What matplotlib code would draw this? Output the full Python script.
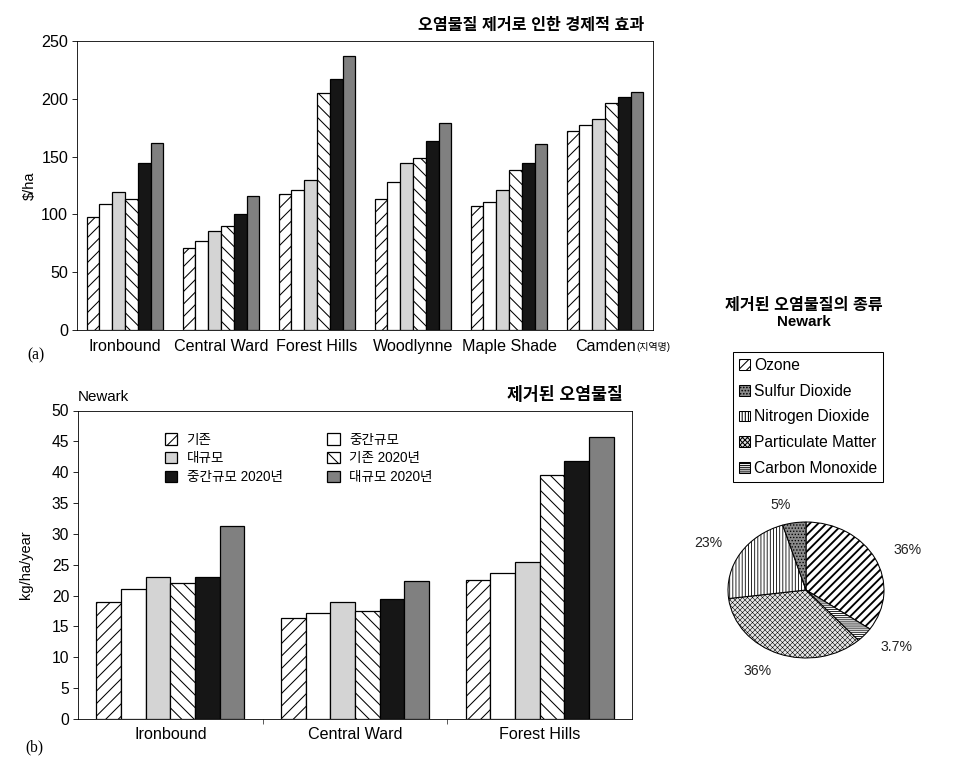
import numpy as np
import matplotlib.pyplot as plt
from matplotlib.patches import Patch

plt.rcParams['font.family'] = ['Liberation Sans', 'Noto Sans CJK KR']
plt.rcParams['hatch.linewidth'] = 1.0

# (a) economic effect of pollutant removal, $/ha
sites_a = ['Ironbound', 'Central Ward', 'Forest Hills', 'Woodlynne', 'Maple Shade', 'Camden']
existing_a = [98, 70.6, 118, 113.5, 107, 172]
medium_a = [109.4, 76.6, 121, 128, 110.6, 177.7]
large_a = [119, 85.3, 130, 144.3, 121.5, 182.3]
existing2020_a = [113.5, 90.2, 205, 149.2, 138, 196]
medium2020_a = [144.6, 100.5, 217, 163.3, 144.6, 201.6]
large2020_a = [162, 115.5, 237, 179.4, 161, 206.2]

# (b) pollutants removed in Newark, kg/ha/year
sites_b = ['Ironbound', 'Central Ward', 'Forest Hills']
existing_b = [18.9, 16.3, 22.6]
medium_b = [21.0, 17.2, 23.7]
large_b = [23.0, 18.9, 25.5]
existing2020_b = [22.0, 17.5, 39.5]
medium2020_b = [23.0, 19.5, 41.8]
large2020_b = [31.3, 22.4, 45.7]

series_names = ['기존', '중간규모', '대규모', '기존 2020년', '중간규모 2020년', '대규모 2020년']

# pie: kinds of pollutant removed (clockwise from top)
pollutants = ['Ozone', 'Carbon Monoxide', 'Particulate Matter', 'Nitrogen Dioxide', 'Sulfur Dioxide']
shares = [36, 3.7, 36, 23, 5]
legend_order = ['Ozone', 'Sulfur Dioxide', 'Nitrogen Dioxide', 'Particulate Matter', 'Carbon Monoxide']

bar_styles = [
    dict(facecolor='white', hatch='//'),
    dict(facecolor='white'),
    dict(facecolor='#d4d4d4'),
    dict(facecolor='white', hatch='\\\\'),
    dict(facecolor='#161616'),
    dict(facecolor='#808080'),
]

pie_styles = {
    'Ozone': dict(facecolor='white', hatch='///'),
    'Sulfur Dioxide': dict(facecolor='#8a8a8a', hatch='....'),
    'Nitrogen Dioxide': dict(facecolor='white', hatch='||||'),
    'Particulate Matter': dict(facecolor='#e6e6e6', hatch='xxxxx'),
    'Carbon Monoxide': dict(facecolor='white', hatch='------'),
}
pie_hatch_lw = {'Ozone': 1.8, 'Sulfur Dioxide': 0.8, 'Nitrogen Dioxide': 0.8,
                'Particulate Matter': 0.5, 'Carbon Monoxide': 0.8}


def grouped_bars(ax, series, n_groups, group_width=0.8):
    w = group_width / len(series)
    x = np.arange(n_groups)
    bars = []
    for i, vals in enumerate(series):
        b = ax.bar(x - group_width / 2 + w * (i + 0.5), vals, width=w,
                   edgecolor='black', linewidth=1.2, label=series_names[i],
                   **bar_styles[i])
        bars.append(b)
    return bars


W, H = 953, 780
fig = plt.figure(figsize=(W / 75, H / 75), dpi=75)

# ---- (a) ----
ax1 = fig.add_axes([77 / W, 1 - 330 / H, 576 / W, 289 / H])
grouped_bars(ax1, [existing_a, medium_a, large_a, existing2020_a, medium2020_a, large2020_a], len(sites_a))
ax1.set_xlim(-0.5, len(sites_a) - 0.5)
ax1.set_ylim(0, 250)
ax1.set_yticks(np.arange(0, 251, 50))
ax1.set_xticks(np.arange(len(sites_a)))
ax1.set_xticklabels(sites_a)
ax1.tick_params(axis='x', length=0, labelsize=15.5, pad=9)
ax1.tick_params(axis='y', direction='out', length=5, labelsize=15.5)
ax1.set_ylabel(r'\$/ha', fontsize=14)
ax1.yaxis.set_label_coords(-0.069, 0.5)
ax1.text(0.984, 1.055, '오염물질 제거로 인한 경제적 효과', transform=ax1.transAxes,
         ha='right', va='center', fontsize=15.5, fontweight='bold')
ax1.text(0.972, -0.06, '(지역명)', transform=ax1.transAxes, ha='left', va='center', fontsize=9.5)
fig.text(27 / W, 1 - 355 / H, '(a)', family='Liberation Serif', fontsize=15, va='center')

# ---- (b) ----
ax2 = fig.add_axes([78 / W, 1 - 719 / H, 554 / W, 308.5 / H])
bars_b = grouped_bars(ax2, [existing_b, medium_b, large_b, existing2020_b, medium2020_b, large2020_b], len(sites_b))
ax2.set_xlim(-0.5, len(sites_b) - 0.5)
ax2.set_ylim(0, 50)
ax2.set_yticks(np.arange(0, 51, 5))
ax2.set_xticks(np.arange(len(sites_b)))
ax2.set_xticklabels(sites_b)
ax2.set_xticks(np.arange(len(sites_b) - 1) + 0.5, minor=True)
ax2.tick_params(axis='x', which='major', length=0, labelsize=15.5, pad=8)
ax2.tick_params(axis='x', which='minor', direction='out', length=5)
ax2.tick_params(axis='y', direction='out', length=5, labelsize=15)
ax2.set_ylabel('kg/ha/year', fontsize=14)
ax2.yaxis.set_label_coords(-0.081, 0.5)
ax2.text(0.0, 1.045, 'Newark', transform=ax2.transAxes, ha='left', va='center', fontsize=14.5)
ax2.text(0.984, 1.052, '제거된 오염물질', transform=ax2.transAxes,
         ha='right', va='center', fontsize=16.5, fontweight='bold')
order = [0, 2, 4, 1, 3, 5]
ax2.legend([bars_b[i] for i in order], [series_names[i] for i in order],
           ncol=2, frameon=False, loc='upper left', bbox_to_anchor=(0.135, 0.968),
           fontsize=13, handlelength=0.9, handleheight=0.9, handletextpad=0.7,
           labelspacing=0.35, columnspacing=3.3)
fig.text(25 / W, 1 - 747 / H, '(b)', family='Liberation Serif', fontsize=15, va='center')

# ---- pie ----
fig.text(804 / W, 1 - 305 / H, '제거된 오염물질의 종류', ha='center', va='center',
         fontsize=15.5, fontweight='bold')
fig.text(804 / W, 1 - 322 / H, 'Newark', ha='center', va='center',
         fontsize=14.5, fontweight='bold')

ax3 = fig.add_axes([728 / W, 1 - 658 / H, 156 / W, 136 / H])
wedges, texts = ax3.pie(shares, labels=[f'{s:g}%' for s in shares], startangle=90,
                        counterclock=False, labeldistance=1.27,
                        wedgeprops=dict(edgecolor='black', linewidth=1),
                        textprops=dict(fontsize=13.5, color='#222222'))
for wdg, name in zip(wedges, pollutants):
    wdg.set_facecolor(pie_styles[name]['facecolor'])
    wdg.set_hatch(pie_styles[name]['hatch'])
    if hasattr(wdg, 'set_hatch_linewidth'):
        wdg.set_hatch_linewidth(pie_hatch_lw[name])
ax3.set_aspect('auto')
ax3.set_xlim(-1, 1)
ax3.set_ylim(-1, 1)

handles = [Patch(edgecolor='black', label=n, **pie_styles[n]) for n in legend_order]
leg = fig.legend(handles=handles, loc='upper left', bbox_to_anchor=(733 / W, 1 - 352 / H),
                 fontsize=15, frameon=True, fancybox=False, edgecolor='black', framealpha=1,
                 handlelength=0.7, handleheight=0.7, handletextpad=0.25, borderpad=0.4,
                 labelspacing=0.68, borderaxespad=0)
leg.get_frame().set_linewidth(1.0)

fig.savefig('out.png', dpi=75)
